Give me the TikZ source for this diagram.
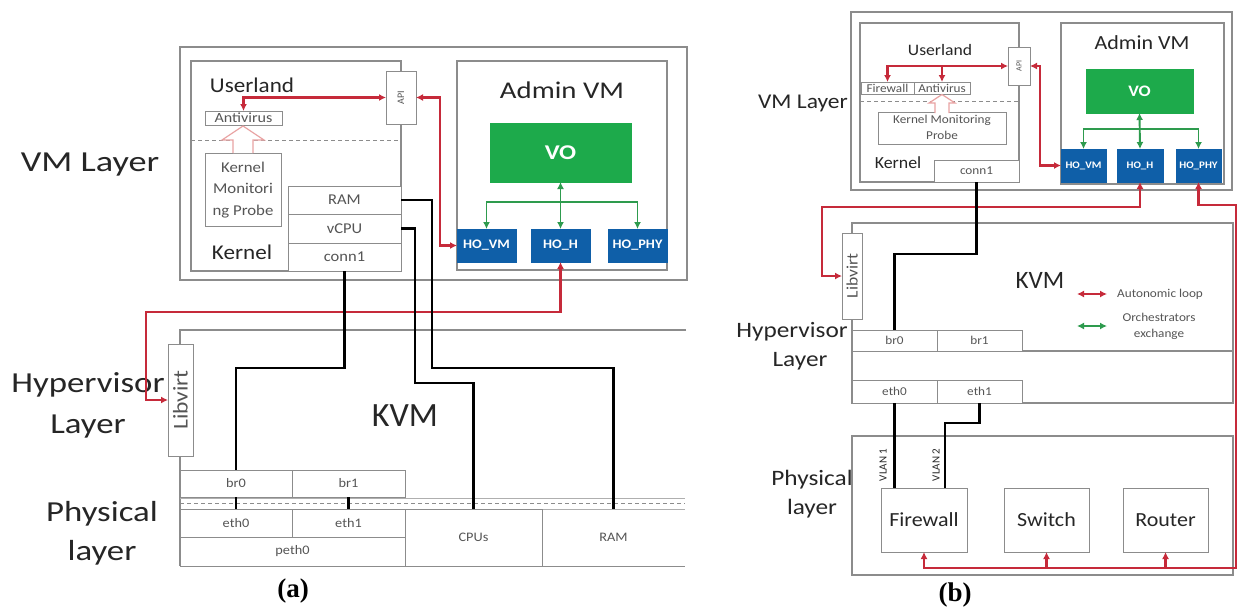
\documentclass[tikz,border=0pt]{standalone}
\usepackage{fontspec}
\usepackage{graphicx}
\setmainfont{Carlito}
\newfontfamily\capfont{Liberation Serif}
\usetikzlibrary{arrows.meta}

\definecolor{redc}{HTML}{C62A3A}
\definecolor{grnc}{HTML}{2E9B4E}
\definecolor{vofill}{HTML}{1DAA4B}
\definecolor{hofill}{HTML}{0F5FA8}
\definecolor{boxg}{HTML}{8C8C8C}
\definecolor{txtd}{HTML}{262626}
\definecolor{txtg}{HTML}{555555}
\definecolor{probeg}{HTML}{E9A3A3}

\newcommand\sx[2]{\scalebox{#1}[1]{#2}}
\newcommand\fsz[1]{\fontsize{#1}{#1}\selectfont}
% box node from its corner coordinates: style, name, x1, y1, x2, y2, text
\newcommand\mkbox[7]{\node[#1, minimum width={(#5-#3)*1pt}, minimum height={(#6-#4)*1pt}] (#2) at ({(#3+#5)/2},{(#4+#6)/2}) {#7};}

\begin{document}
\begin{tikzpicture}[x=1pt,y=-1pt,
  outer/.style={draw=boxg, line width=1.1pt, fill=white, inner sep=0pt, outer sep=0pt},
  cell/.style={draw=boxg, line width=0.8pt, fill=white, inner sep=0pt, outer sep=0pt, text=txtg, font=\fsz{13}},
  ho/.style={fill=hofill, draw=hofill, inner sep=0pt, outer sep=0pt, text=white, font=\bfseries\fsz{13}},
  vo/.style={fill=vofill, draw=vofill, inner sep=0pt, outer sep=0pt, text=white, font=\bfseries\fsz{21}},
  lbl/.style={inner sep=0pt, text=txtd},
  layer/.style={inner sep=0pt, text=txtd, anchor=base},
  boxline/.style={draw=boxg, line width=1.1pt},
  thinline/.style={draw=boxg!70, line width=0.8pt},
  dashg/.style={draw=boxg, line width=0.8pt, dash pattern=on 4pt off 3pt},
  hollow/.style={draw=probeg, line width=1.2pt, fill=white},
  blk/.style={draw=black, line width=2.6pt},
  redarr/.style={draw=redc, line width=2.1pt, {Latex[length=7pt,width=7pt]}-{Latex[length=7pt,width=7pt]}},
  redhead/.style={draw=redc, line width=2.1pt, -{Latex[length=7pt,width=7pt]}},
  grnarr/.style={draw=grnc, line width=1.9pt, {Latex[length=7pt,width=7pt]}-{Latex[length=7pt,width=7pt]}},
  grnhead/.style={draw=grnc, line width=1.9pt, -{Latex[length=7pt,width=7pt]}},
  capt/.style={inner sep=0pt, font=\capfont\bfseries\fsz{27}}
]
\useasboundingbox[fill=white] (0,0) rectangle (1238,608);

%% ================= (a) =================
% layer labels
\node[layer, font=\fsz{29}] (vmLA) at (90,171) {\sx{1.25}{VM Layer}};
\node[layer, font=\fsz{29}] (hyLA1) at (88,392) {\sx{1.2}{Hypervisor}};
\node[layer, font=\fsz{29}] (hyLA2) at (88,433) {\sx{1.2}{Layer}};
\node[layer, font=\fsz{29}] (phLA1) at (102,521) {\sx{1.2}{Physical}};
\node[layer, font=\fsz{29}] (phLA2) at (102,560) {\sx{1.2}{layer}};

% VM layer
\mkbox{outer}{vmA}{180}{47}{687}{280}{}
\mkbox{outer}{ulA}{191}{61}{401}{271}{}
\node[lbl, font=\fsz{21}] (ulTA) at (252,85) {\sx{1.1}{Userland}};
\mkbox{cell}{avA}{205}{111}{282}{125}{\fsz{14}\sx{1.15}{Antivirus}}
\draw[dashg] (ulA.west |- 0,140) -- (ulA.east |- 0,140);
\mkbox{cell}{kmpA}{205}{153}{281}{226}{\fontsize{15}{21.7}\selectfont\begin{tabular}{@{}c@{}}\sx{1.12}{Kernel}\\\sx{1.12}{Monitori}\\\sx{1.12}{ng Probe}\end{tabular}}
\draw[hollow] (233,153) -- (233,140) -- (222,140) -- (243,126) -- (264,140) -- (253,140) -- (253,153);
\node[lbl, font=\fsz{21}] (kerTA) at (242,252) {\sx{1.1}{Kernel}};
\mkbox{cell}{ramA}{288}{186}{401}{214}{\fsz{15}\sx{1.1}{RAM}}
\mkbox{cell}{vcpuA}{288}{214}{401}{243}{\fsz{15}\sx{1.1}{vCPU}}
\mkbox{cell}{connA}{288}{243}{401}{271}{\fsz{15}\sx{1.1}{conn1}}
\mkbox{cell}{apiA}{386}{71}{416}{124}{\fsz{10}\rotatebox{90}{API}}

\mkbox{outer}{admA}{457}{61}{667}{270}{}
\node[lbl, font=\fsz{24}] (admTA) at (562,90) {\sx{1.2}{Admin VM}};
\mkbox{vo}{voA}{490}{123}{631}{182}{\sx{1.2}{VO}}
\mkbox{ho}{hovmA}{457}{229}{516}{262}{\sx{1.1}{HO\_VM}}
\mkbox{ho}{hohA}{531}{229}{590}{262}{\sx{1.1}{HO\_H}}
\mkbox{ho}{hophyA}{608}{229}{667}{262}{\sx{1.1}{HO\_PHY}}

% hypervisor and physical layers
\draw[boxline] (686,330) -- (180,330) -- (180,566);
\node[lbl, font=\fsz{34}, anchor=base] (kvmTA) at (405,426) {KVM};
\mkbox{cell}{libA}{168}{344}{193}{456}{\fsz{21}\rotatebox{90}{\sx{1.12}{Libvirt}}}
\draw[thinline] (180,498) -- (685,498);
\draw[dashg] (180,503) -- (685,503);
\draw[thinline] (180,509) -- (685,509);
\mkbox{cell}{br0A}{180}{470}{292}{497}{\sx{1.1}{br0}}
\mkbox{cell}{br1A}{292}{470}{405}{497}{\sx{1.1}{br1}}
\mkbox{cell}{eth0A}{180}{509}{292}{537}{\sx{1.1}{eth0}}
\mkbox{cell}{eth1A}{292}{509}{405}{537}{\sx{1.1}{eth1}}
\mkbox{cell}{pethA}{180}{537}{405}{566}{\sx{1.1}{peth0}}
\mkbox{cell}{cpusA}{405}{509}{542}{566}{\sx{1.1}{CPUs}}
\node[cell, draw=none, fill=none, minimum width=143pt, minimum height=57pt] (ramPA) at (613.5,537.5) {\sx{1.1}{RAM}};
\draw[thinline, draw=boxg] (542,566) -- (685,566);

% connectors
\draw[redarr] (apiA.west) -| (avA.north);
\draw[redarr] (apiA.east) -- ++(24,0) |- (hovmA.west);
\coordinate (bendA) at (146,312);
\draw[redarr] (hohA.south) |- (bendA) |- (libA.west);
\draw[grnarr] (voA.south) -- (hohA.north);
\coordinate (gbarA) at (560.5,202);
\draw[grnhead] (gbarA) -| (hovmA.north);
\draw[grnhead] (gbarA) -| (hophyA.north);
\draw[blk] (connA.south) -- ++(0,97) -| (br0A.north);
\draw[blk] (vcpuA.east) -| (415,383) -| (cpusA.north);
\draw[blk] (ramA.east) -| (432,368) -| (ramPA.north);
\draw[blk] (br0A.south) -- (eth0A.north);
\draw[blk] (br1A.south) -- (eth1A.north);

\node[capt] (capA) at (293,591) {(a)};

%% ================= (b) =================
\node[layer, font=\fsz{21}] (vmLB) at (803,108) {\sx{1.12}{VM Layer}};
\node[layer, font=\fsz{22}] (hyLB1) at (792,337) {\sx{1.15}{Hypervisor}};
\node[layer, font=\fsz{22}] (hyLB2) at (800,366) {\sx{1.15}{Layer}};
\node[layer, font=\fsz{22}] (phLB1) at (812,485) {\sx{1.15}{Physical}};
\node[layer, font=\fsz{22}] (phLB2) at (812,514) {\sx{1.15}{layer}};

\mkbox{outer}{vmB}{851}{12}{1232}{190}{}
\mkbox{outer}{ulB}{860}{23}{1019}{182}{}
\node[lbl, font=\fsz{16}] (ulTB) at (940,50) {\sx{1.1}{Userland}};
\mkbox{cell}{fwB}{861}{82}{914}{94}{\fsz{12}\sx{1.1}{Firewall}}
\mkbox{cell}{avB}{914}{82}{970}{94}{\fsz{12}\sx{1.1}{Antivirus}}
\draw[dashg] (ulB.west |- 0,101) -- (ulB.east |- 0,101);
\mkbox{cell}{kmpB}{878}{113}{1006}{143}{\fontsize{12}{16}\selectfont\begin{tabular}{@{}c@{}}\sx{1.1}{Kernel Monitoring}\\\sx{1.1}{Probe}\end{tabular}}
\draw[hollow] (935,113) -- (935,103) -- (929,103) -- (942,94.5) -- (955,103) -- (949,103) -- (949,113);
\node[lbl, font=\fsz{17}] (kerTB) at (898,163) {\sx{1.05}{Kernel}};
\mkbox{cell}{connB}{934}{160}{1019}{182}{\fsz{12}\sx{1.1}{conn1}}
\mkbox{cell}{apiB}{1008}{47}{1030}{85}{\fsz{8}\rotatebox{90}{API}}

\mkbox{outer}{admB}{1061}{23}{1224}{184}{}
\node[lbl, font=\fsz{20}] (admTB) at (1142,43) {\sx{1.1}{Admin VM}};
\mkbox{vo}{voB}{1086}{69}{1193}{113}{\fsz{16}\sx{1.12}{VO}}
\mkbox{ho}{hovmB}{1061}{149}{1106}{182}{\fsz{10}\sx{1.1}{HO\_VM}}
\mkbox{ho}{hohB}{1117}{149}{1163}{182}{\fsz{10}\sx{1.1}{HO\_H}}
\mkbox{ho}{hophyB}{1176}{149}{1221}{182}{\fsz{10}\sx{1.1}{HO\_PHY}}

\mkbox{outer}{kvmB}{852}{223}{1233}{403}{}
\draw[boxline] (852,351) -- (1233,351);
\node[lbl, font=\fsz{25}] (kvmTB) at (1040,280) {KVM};
\mkbox{cell}{libB}{842}{233}{862}{319}{\fsz{16}\rotatebox{90}{\sx{1.1}{Libvirt}}}
\mkbox{cell}{br0B}{852}{330}{937}{351}{\fsz{12}\sx{1.1}{br0}}
\mkbox{cell}{br1B}{937}{330}{1022}{351}{\fsz{12}\sx{1.1}{br1}}
\mkbox{cell}{eth0B}{852}{380}{937}{403}{\fsz{12}\sx{1.1}{eth0}}
\mkbox{cell}{eth1B}{937}{380}{1022}{403}{\fsz{12}\sx{1.1}{eth1}}

% legend
\coordinate (lgR1) at (1077,294); \coordinate (lgR2) at (1107,294);
\coordinate (lgG1) at (1077,326); \coordinate (lgG2) at (1107,326);
\draw[redarr, line width=1.7pt] (lgR1) -- (lgR2);
\draw[grnarr, line width=1.7pt] (lgG1) -- (lgG2);
\node[lbl, text=txtg, anchor=west, font=\fsz{12}] (lgRT) at (1117,294) {\sx{1.1}{Autonomic loop}};
\node[lbl, text=txtg, align=center, font=\fontsize{12}{16}\selectfont] (lgGT) at (1159,326) {\sx{1.1}{Orchestrators}\\\sx{1.1}{exchange}};

\mkbox{outer}{phyB}{852}{436}{1233}{575}{}
\mkbox{cell}{fwPB}{881}{488}{967}{552}{\fsz{20}\color{txtd}\sx{1.1}{Firewall}}
\mkbox{cell}{swB}{1004}{488}{1089}{552}{\fsz{20}\color{txtd}\sx{1.1}{Switch}}
\mkbox{cell}{rtB}{1123}{488}{1208}{552}{\fsz{20}\color{txtd}\sx{1.1}{Router}}
\node[lbl, text=txtd, font=\fsz{11}] (vl1) at (883,465) {\rotatebox{90}{VLAN 1}};
\node[lbl, text=txtd, font=\fsz{11}] (vl2) at (936,465) {\rotatebox{90}{VLAN 2}};

% connectors
\draw[redarr] (apiB.west) -| (fwB.north);
\draw[redhead] (avB.north |- apiB.west) -- (avB.north);
\draw[redarr] (apiB.east) -- ++(10,0) |- (hovmB.west);
\coordinate (bendB) at (822,207);
\draw[redarr] (hohB.south) |- (bendB) |- (libB.west);
\coordinate (rc1) at (1236,205);
\coordinate (rc2) at (924,568);
\draw[redarr] (hophyB.south) |- (rc1) |- (rc2) -- (fwPB.south);
\draw[redhead] (swB.south |- rc2) -- (swB.south);
\draw[redhead] (rtB.south |- rc2) -- (rtB.south);
\draw[grnarr] (voB.south) -- (hohB.north);
\coordinate (gbarB) at (1140,129);
\draw[grnhead] (gbarB) -| (hovmB.north);
\draw[grnhead] (gbarB) -| (hophyB.north);
\draw[blk, line width=2.2pt] (connB.south) -- ++(0,72) -| (br0B.north);
\draw[blk, line width=2.2pt] (eth0B.south) -- (eth0B.south |- fwPB.north);
\coordinate (vbend) at (945,423);
\draw[blk, line width=2.2pt] (eth1B.south) |- (vbend) -- (vbend |- fwPB.north);

\node[capt] (capB) at (955,595) {(b)};
\end{tikzpicture}
\end{document}
